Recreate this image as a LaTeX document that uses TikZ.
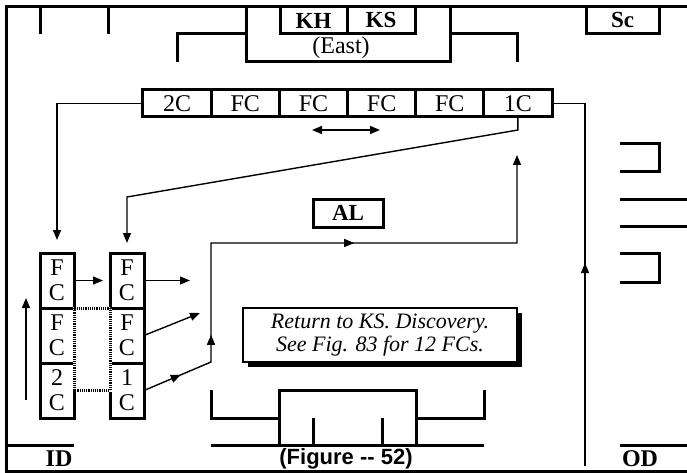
\documentclass[tikz,border=0pt]{standalone}
\usepackage{fontspec}
\setmainfont{Liberation Serif}
\newfontfamily\capfont{Liberation Sans}
\usetikzlibrary{arrows.meta,positioning,decorations.markings,shadows}
\tikzset{
  frameline/.style={line width=3pt},
  wire/.style={line width=1.4pt},
  wirearrow/.style={wire,-{Triangle[length=10pt,width=8pt]}},
  flowmark/.style={postaction={decorate,decoration={markings,
      mark=at position #1 with {\arrow{Triangle[length=10pt,width=8pt]}}}}},
  rowcell/.style={draw,line width=3pt,minimum width=68.2pt,minimum height=27pt,
      inner sep=0pt,outer sep=0pt,font=\fontsize{24}{26}\selectfont},
  colcell/.style={draw,line width=3pt,minimum width=34pt,minimum height=55pt,
      inner sep=0pt,outer sep=0pt,align=center,font=\fontsize{24}{25}\selectfont},
  tagbox/.style={draw,line width=3pt,inner sep=0pt,outer sep=0pt,minimum height=27pt,
      font=\fontsize{23}{24}\selectfont\bfseries},
  dotlink/.style={line width=3pt,dash pattern=on 1.2pt off 1pt},
}
\begin{document}
\begin{tikzpicture}[x=1pt,y=-1pt]
\useasboundingbox[fill=white] (0,0) rectangle (687,473);
% outer frame
\draw[frameline] (687,7) -- (6,7) -- (6,471) -- (687,471);
% top strip
\draw[frameline] (40,7) -- (40,34);
\draw[frameline] (108,7) -- (108,34);
\draw[frameline] (246,7) -- (246,62) -- (450,62) -- (450,7);
\draw[frameline] (177,62) -- (177,34) -- (246,34);
\draw[frameline] (450,34) -- (517,34) -- (517,62);
\node[tagbox,minimum width=67pt] (KH) at (313.5,20.5) {KH};
\node[tagbox,minimum width=68pt] (KS) at (381,20.5) {KS};
\node[font=\fontsize{24}{26}\selectfont] (east) at (341,48) {(East)};
\node[tagbox,minimum width=73pt] (Sc) at (622.5,20.5) {Sc};
% row of cells
\foreach \lbl [count=\i] in {2C,FC,FC,FC,FC,1C}
  \node[rowcell] (c\i) at ({143+68.17*(\i-0.5)},103.5) {\lbl};
% two columns
\foreach \up/\lo [count=\i] in {F/C,F/C,2/C}
  \node[colcell] (L\i) at (57,{225.5+55*\i}) {\up\\\lo};
\foreach \up/\lo [count=\i] in {F/C,F/C,1/C}
  \node[colcell] (R\i) at (127,{225.5+55*\i}) {\up\\\lo};
\draw[white,line width=3pt] (L2.north east) rectangle (R3.west);
\draw[dotlink] (L2.north east) rectangle (R3.west);
% connectors
\coordinate (kink) at (127,197);
\draw[wirearrow,shorten >=13pt] (c1.west) -| (L1.north);
\draw[wirearrow,shorten >=10pt] (c6.south) -- ++(0,13) -- (kink) -- (R1.north);
\coordinate (odfoot) at (585,466);
\draw[wire,flowmark=203pt] (odfoot) |- (c6.east);
\draw[wirearrow,shorten >=7pt] (L1.east) -- (R1.west);
\draw[wirearrow] (R1.east) -- ++(46,0);
\coordinate (r2tip) at (200,313);
\draw[wirearrow] (R2.east) -- (r2tip);
\coordinate (bendA) at (211,362);
\coordinate (bendB) at (211,243);
\coordinate (bendC) at (517,243);
\coordinate (alTip) at (517,155);
\draw[wirearrow,flowmark=40pt,flowmark=100pt,flowmark=335pt]
  (R3.east) -- (bendA) -- (bendB) -- (bendC) -- (alTip);
\coordinate (idfoot) at (26,400);
\coordinate (idhead) at (26,298);
\draw[wirearrow] (idfoot) -- (idhead);
\coordinate (shiftL) at (312,130);
\coordinate (shiftR) at (380,130);
\draw[wire,{Triangle[length=10pt,width=8pt]}-{Triangle[length=10pt,width=8pt]}] (shiftL) -- (shiftR);
\node[tagbox,minimum width=70pt,minimum height=28pt] (AL) at (348,213) {AL};
% note with shadow
\node[draw,line width=1.5pt,fill=white,minimum width=274pt,minimum height=54pt,
  align=center,font=\fontsize{22}{23}\selectfont\itshape,
  drop shadow={shadow xshift=5pt,shadow yshift=-5pt,fill=black,opacity=1}]
  (note) at (380,335) {Return to KS. Discovery.\\See Fig. 83 for 12 FCs.};
% bottom strip
\draw[frameline] (211,390) -- (211,418) -- (279,418);
\draw[frameline] (279,445) -- (279,390) -- (416,390) -- (416,445);
\draw[frameline] (313,418) -- (313,445);
\draw[frameline] (382,418) -- (382,445);
\draw[frameline] (416,418) -- (484,418) -- (484,390);
\draw[frameline] (211,445) -- (484,445);
\draw[frameline] (6,445) -- (74,445);
\draw[frameline] (620,445) -- (687,445);
% right side marks
\draw[frameline] (620,144) -- (659,144) -- (659,171) -- (620,171);
\draw[frameline] (620,199) -- (687,199);
\draw[frameline] (620,226) -- (687,226);
\draw[frameline] (620,253) -- (659,253) -- (659,282) -- (620,282);
% labels
\node[font=\fontsize{24}{24}\selectfont\bfseries] (ID) at (59,459) {ID};
\node[font=\capfont\fontsize{22}{24}\selectfont\bfseries] (fig) at (346,459) {(Figure -{}- 52)};
\node[font=\fontsize{24}{24}\selectfont\bfseries] (OD) at (640,459) {OD};
\end{tikzpicture}
\end{document}
